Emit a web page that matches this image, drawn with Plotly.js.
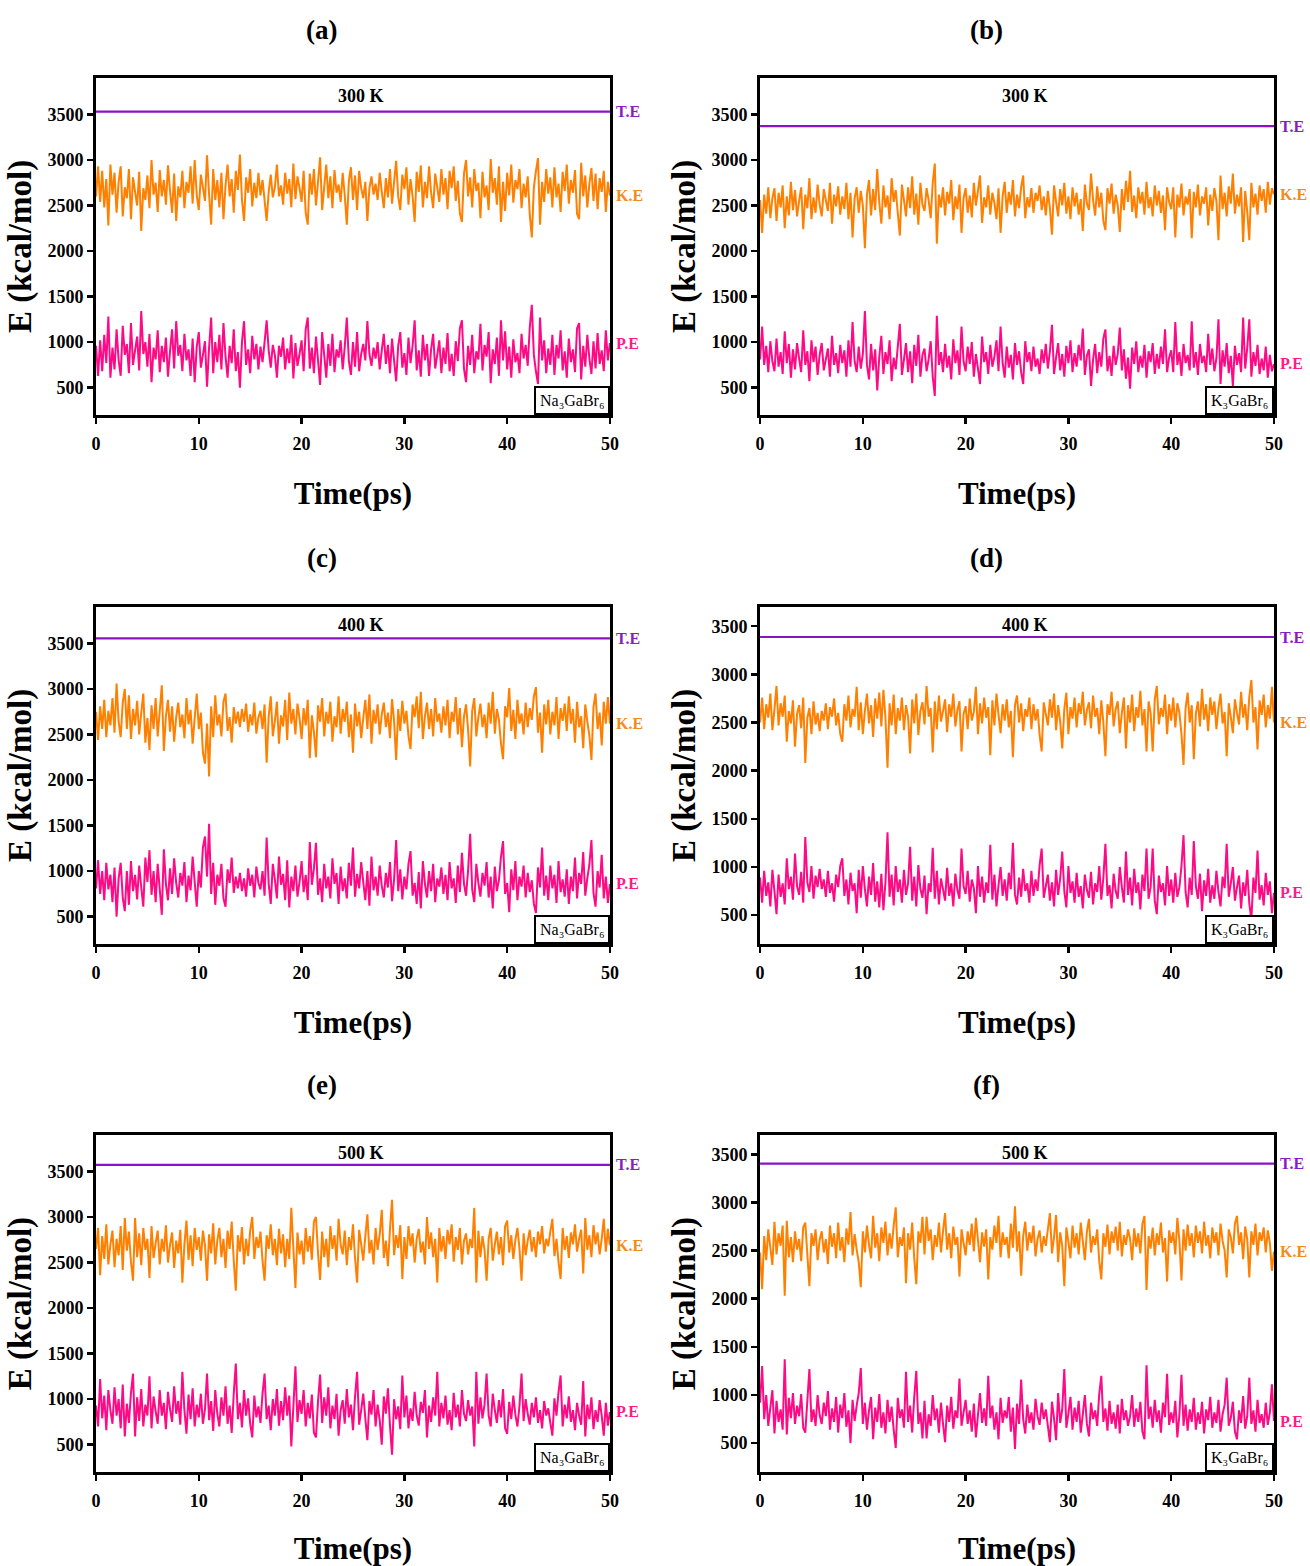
<!DOCTYPE html>
<html>
<head>
<meta charset="utf-8">
<script src="https://cdn.plot.ly/plotly-3.0.1.min.js"></script>
<style>
  html, body { margin: 0; padding: 0; background: #ffffff; }
  #chart { width: 1310px; height: 1566px; }
</style>
</head>
<body>
<div id="chart"></div>
<script>
// AIMD energy traces (kcal/mol) sampled every 0.2 ps over 50 ps
const timeStep = 0.2;

const panelLetters = ['(a)', '(b)', '(c)', '(d)', '(e)', '(f)'];
const temperatures = ['300 K', '300 K', '400 K', '400 K', '500 K', '500 K'];
const compounds = ['Na₃GaBr₆', 'K₃GaBr₆', 'Na₃GaBr₆', 'K₃GaBr₆', 'Na₃GaBr₆', 'K₃GaBr₆'];
const seriesNames = ['T.E', 'K.E', 'P.E'];

// total energy (flat line) per panel
const totalEnergy = [3530, 3372, 3555, 3388, 3573, 3403];

// (a) Na3GaBr6, 300 K
const keA = [
  2600, 2930, 2540, 2880, 2480, 2790, 2280, 2950, 2620, 2860,
  2420, 2760, 2930, 2380, 2700, 2580, 2900, 2350, 2810, 2650,
  2500, 2870, 2220, 2690, 2560, 2830, 2470, 3000, 2620, 2750,
  2430, 2890, 2600, 2780, 2510, 2940, 2660, 2420, 2850, 2330,
  2710, 2590, 2880, 2470, 2760, 2640, 2930, 2520, 3000, 2610,
  2450, 2840, 2700, 2550, 3050, 2620, 2290, 2900, 2560, 2780,
  2480, 2860, 2350, 2720, 2950, 2600, 2790, 2420, 2880, 2670,
  3060, 2560, 2330, 2810, 2640, 2900, 2490, 2750, 2580, 2860,
  2610, 2780, 2560, 2330, 2650, 2840, 2590, 2700, 2950, 2600,
  2720, 2510, 2860, 2630, 2790, 2480, 2960, 2570, 2820, 2690,
  2540, 2880, 2420, 2290, 2850, 2620, 2900, 2500, 2760, 3030,
  2450, 2700, 2950, 2580, 2820, 2470, 2890, 2640, 2730, 2540,
  2860, 2610, 2290, 2770, 2920, 2560, 2830, 2450, 2880, 2690,
  2580, 2760, 2330, 2690, 2820, 2620, 2740, 2560, 2860, 2650,
  2470, 2800, 2590, 2900, 2520, 2760, 2990, 2600, 2450, 2840,
  2680, 2920, 2510, 2790, 2600, 2320, 2870, 2650, 2940, 2480,
  2760, 2580, 2930, 2640, 2470, 2850, 2700, 2540, 2900, 2620,
  2800, 2460, 2880, 2690, 2930, 2550, 2770, 2410, 2320, 2850,
  3000, 2600, 2810, 2480, 2900, 2660, 2750, 2360, 2870, 2590,
  2720, 2450, 3010, 2640, 2800, 2510, 2930, 2320, 2760, 2440,
  2860, 2610, 2950, 2530, 2780, 2680, 2900, 2470, 2740, 2590,
  2820, 2400, 2150, 2700, 2880, 3020, 2290, 2760, 2540, 2900,
  2630, 2810, 2480, 2920, 2590, 2740, 2430, 2870, 2660, 2950,
  2520, 2780, 2640, 2890, 2410, 2350, 2970, 2600, 2830, 2480,
  2740, 2910, 2550, 2850, 2460, 2800, 2650, 2880, 2430, 2760,
  2610
];
const peA = [
  960, 630, 1020, 680, 1080, 770, 1280, 610, 940, 700,
  1140, 800, 630, 1180, 860, 980, 660, 1210, 750, 910,
  1060, 690, 1340, 870, 1000, 730, 1090, 560, 940, 810,
  1130, 670, 960, 780, 1050, 620, 900, 1140, 710, 1230,
  850, 970, 680, 1090, 800, 920, 630, 1040, 560, 950,
  1110, 720, 860, 1010, 510, 940, 1270, 660, 1000, 780,
  1080, 700, 1210, 840, 610, 960, 770, 1140, 680, 890,
  500, 1000, 1230, 750, 920, 660, 1070, 810, 980, 700,
  950, 780, 1000, 1240, 910, 720, 970, 860, 610, 960,
  840, 1050, 700, 930, 770, 1080, 600, 990, 740, 870,
  1020, 680, 1140, 1270, 710, 940, 660, 1060, 800, 530,
  1110, 860, 610, 980, 740, 1090, 670, 920, 830, 1020,
  700, 950, 1270, 790, 640, 1000, 730, 1110, 680, 870,
  980, 800, 1230, 870, 740, 940, 820, 1000, 700, 910,
  1090, 760, 970, 660, 1040, 800, 570, 960, 1110, 720,
  880, 640, 1050, 770, 960, 1240, 690, 910, 620, 1080,
  800, 980, 630, 920, 1090, 710, 860, 1020, 660, 940,
  760, 1100, 680, 870, 630, 1010, 790, 1150, 1240, 710,
  560, 960, 750, 1080, 660, 900, 810, 1200, 690, 970,
  840, 1110, 550, 920, 760, 1050, 630, 1240, 800, 1120,
  700, 950, 610, 1030, 780, 880, 660, 1090, 820, 970,
  740, 1160, 1410, 860, 680, 540, 1270, 800, 1020, 660,
  930, 750, 1080, 640, 970, 820, 1130, 690, 900, 610,
  1040, 780, 920, 670, 1150, 1210, 590, 960, 730, 1080,
  820, 650, 1010, 710, 1100, 760, 910, 680, 1130, 800,
  990
];

// (b) K3GaBr6, 300 K
const keB = [
  2560, 2200, 2620, 2410, 2700, 2360, 2580, 2690, 2330, 2640,
  2480, 2720, 2250, 2600, 2390, 2760, 2450, 2670, 2380, 2550,
  2700, 2240, 2620, 2470, 2800, 2350, 2590, 2420, 2730, 2510,
  2380, 2680, 2560, 2440, 2750, 2300, 2620, 2490, 2710, 2400,
  2600, 2460, 2750, 2350, 2640, 2150, 2580, 2700, 2420, 2660,
  2500, 2030, 2620, 2780, 2390, 2680, 2450, 2900, 2530, 2300,
  2720, 2480, 2610, 2350, 2800, 2540, 2670, 2420, 2170, 2730,
  2560, 2380, 2700, 2470, 2820, 2400, 2630, 2290, 2750, 2510,
  2440, 2690, 2560, 2360, 2750, 2960, 2080, 2620, 2480, 2700,
  2390, 2650, 2520, 2780, 2340, 2600, 2460, 2730, 2200, 2580,
  2690, 2420, 2610, 2370, 2750, 2500, 2660, 2830, 2310, 2590,
  2480, 2720, 2400, 2640, 2530, 2350, 2690, 2200, 2600, 2760,
  2420, 2650, 2510, 2780, 2380, 2620, 2470, 2700, 2830, 2360,
  2590, 2480, 2690, 2420, 2640, 2550, 2720, 2450, 2600, 2390,
  2660, 2470, 2180, 2720, 2540, 2380, 2680, 2500, 2750, 2410,
  2600, 2350, 2700, 2490, 2640, 2400, 2570, 2220, 2730, 2520,
  2450, 2850, 2560, 2390, 2710, 2480, 2640, 2330, 2230, 2690,
  2520, 2740, 2410, 2620, 2500, 2210, 2680, 2450, 2770, 2540,
  2880, 2430, 2610, 2360, 2700, 2520, 2650, 2400, 2760, 2470,
  2590, 2380, 2720, 2500, 2660, 2420, 2610, 2230, 2700, 2540,
  2460, 2700, 2150, 2620, 2480, 2740, 2390, 2600, 2510, 2680,
  2140, 2650, 2480, 2730, 2390, 2600, 2520, 2700, 2280, 2620,
  2440, 2690, 2550, 2120, 2830, 2460, 2640, 2380, 2710, 2520,
  2850, 2410, 2620, 2490, 2700, 2100, 2660, 2430, 2120, 2750,
  2480, 2630, 2400, 2720, 2550, 2680, 2420, 2760, 2510, 2690,
  2620
];
const peB = [
  810, 1170, 750, 960, 670, 1010, 790, 680, 1040, 730,
  890, 650, 1120, 770, 980, 610, 920, 700, 990, 820,
  670, 1130, 750, 900, 570, 1020, 780, 950, 640, 860,
  990, 690, 810, 930, 620, 1070, 750, 880, 660, 970,
  770, 910, 620, 1020, 730, 1220, 790, 670, 950, 710,
  870, 1340, 750, 590, 980, 690, 920, 470, 840, 1070,
  650, 890, 760, 1020, 570, 830, 700, 950, 1200, 640,
  810, 990, 670, 900, 550, 970, 740, 1080, 620, 860,
  930, 680, 810, 1010, 620, 410, 1290, 750, 890, 670,
  980, 720, 850, 590, 1030, 770, 910, 640, 1170, 790,
  680, 950, 760, 1000, 620, 870, 710, 540, 1060, 780,
  890, 650, 970, 730, 840, 1020, 680, 1170, 770, 610,
  950, 720, 860, 590, 990, 750, 900, 670, 540, 1010,
  780, 890, 680, 950, 730, 820, 650, 920, 770, 980,
  710, 900, 1190, 650, 830, 990, 690, 870, 620, 960,
  770, 1020, 670, 880, 730, 970, 800, 1150, 640, 850,
  920, 520, 810, 980, 660, 890, 730, 1040, 1140, 680,
  850, 630, 960, 750, 870, 1160, 690, 920, 600, 830,
  490, 940, 760, 1010, 670, 850, 720, 970, 610, 900,
  780, 990, 650, 870, 710, 950, 760, 1140, 670, 830,
  910, 670, 1220, 750, 890, 630, 980, 770, 860, 690,
  1230, 720, 890, 640, 980, 770, 850, 670, 1090, 750,
  930, 680, 820, 1250, 540, 910, 730, 990, 660, 850,
  520, 960, 750, 880, 670, 1270, 710, 940, 1250, 620,
  890, 740, 970, 650, 820, 690, 950, 610, 860, 680,
  760
];

// (c) Na3GaBr6, 400 K
const keC = [
  2750, 2440, 2810, 2560, 2880, 2470, 2760, 2600, 2900, 2520,
  3060, 2640, 2470, 2850, 3000, 2560, 2930, 2450, 2780, 2600,
  2870, 2500, 2740, 2950, 2410, 2680, 2330, 2820, 2560, 2900,
  2480, 2760, 3040, 2320, 2700, 2880, 2530, 2810, 2420, 2690,
  2850, 2580, 2720, 2460, 2900, 2610, 2770, 2400, 2680, 2950,
  2560, 2740, 2300, 2180, 2620, 2040, 2810, 2470, 2930, 2600,
  2720, 2480, 2860, 2950, 2540, 2690, 2410, 2800, 2620, 2750,
  2580, 2780, 2640, 2840, 2530, 2720, 2600, 2850, 2510, 2690,
  2760, 2560, 2830, 2190, 2700, 2920, 2480, 2650, 2860, 2400,
  2710, 2590, 2880, 2440, 2960, 2620, 2780, 2500, 2840, 2680,
  2450, 2790, 2600, 2880, 2240, 2710, 2530, 2250, 2820, 2640,
  2900, 2480, 2750, 2620, 2860, 2420, 2700, 2580, 2920, 2510,
  2780, 2640, 2860, 2470, 2720, 2300, 2840, 2590, 2750, 2460,
  2680, 2880, 2560, 2940, 2400, 2770, 2620, 2830, 2500, 2720,
  2850, 2580, 2740, 2460, 2890, 2650, 2220, 2780, 2540, 2870,
  2620, 2760, 2480, 2340, 2830, 2690, 2920, 2570, 2970, 2450,
  2700, 2850, 2560, 2780, 2480, 2900, 2640, 2730, 2520, 2810,
  2600, 2880, 2460, 2750, 2640, 2910, 2500, 2790, 2360, 2700,
  2830, 2550, 2150, 2760, 2900, 2480, 2690, 2840, 2580, 2720,
  2460, 2850, 2620, 2970, 2510, 2780, 2660, 2400, 2230, 2810,
  2690, 3010, 2540, 2770, 2450, 2880, 2620, 2730, 2500, 2850,
  2580, 2790, 2660, 2920, 3020, 2520, 2740, 2300, 2830, 2610,
  2880, 2500, 2750, 2600, 2910, 2450, 2790, 2650, 2840, 2540,
  2920, 2620, 2780, 2410, 2860, 2580, 2700, 2350, 2830, 2640,
  2490, 2220, 2800, 2950, 2560, 2740, 2380, 2860, 2620, 2910,
  2620
];
const peC = [
  810, 1120, 750, 1000, 680, 1090, 800, 960, 660, 1040,
  500, 920, 1090, 710, 560, 1000, 630, 1110, 780, 960,
  690, 1060, 820, 610, 1150, 880, 1230, 740, 1000, 660,
  1080, 800, 520, 1240, 860, 680, 1030, 750, 1140, 870,
  710, 980, 840, 1100, 660, 950, 790, 1160, 880, 610,
  1000, 820, 1260, 1380, 940, 1520, 750, 1090, 630, 960,
  840, 1080, 700, 610, 1020, 870, 1150, 760, 940, 810,
  980, 780, 920, 720, 1030, 840, 960, 710, 1050, 870,
  800, 1000, 730, 1370, 860, 640, 1080, 910, 700, 1160,
  850, 970, 680, 1120, 600, 940, 780, 1060, 720, 880,
  1110, 770, 960, 680, 1320, 850, 1030, 1310, 740, 920,
  660, 1080, 810, 940, 700, 1140, 860, 980, 640, 1050,
  780, 920, 700, 1090, 840, 1260, 720, 970, 810, 1100,
  880, 680, 1000, 620, 1160, 790, 940, 730, 1060, 840,
  710, 980, 820, 1100, 670, 910, 1340, 780, 1020, 690,
  940, 800, 1080, 1220, 730, 870, 640, 990, 590, 1110,
  860, 710, 1000, 780, 1080, 660, 920, 830, 1040, 750,
  960, 680, 1100, 810, 920, 650, 1060, 770, 1200, 860,
  730, 1010, 1410, 800, 660, 1080, 870, 720, 980, 840,
  1100, 710, 940, 590, 1050, 780, 900, 1160, 1330, 750,
  870, 550, 1020, 790, 1110, 680, 940, 830, 1060, 710,
  980, 770, 900, 640, 540, 1040, 820, 1260, 730, 950,
  680, 1060, 810, 960, 650, 1110, 770, 910, 720, 1020,
  640, 940, 780, 1150, 700, 980, 860, 1210, 730, 920,
  1070, 1340, 760, 610, 1000, 820, 1180, 700, 940, 650,
  860
];

// (d) K3GaBr6, 400 K
const keD = [
  2500, 2760, 2430, 2690, 2550, 2800, 2420, 2640, 2880, 2470,
  2700, 2560, 2780, 2300, 2620, 2490, 2730, 2250, 2590, 2680,
  2440, 2760, 2080, 2550, 2650, 2380, 2720, 2480, 2600, 2410,
  2620, 2520, 2700, 2430, 2660, 2560, 2750, 2470, 2600, 2380,
  2300, 2690, 2520, 2780, 2450, 2640, 2560, 2870, 2420, 2710,
  2380, 2620, 2800, 2490, 2680, 2350, 2750, 2540, 2810, 2460,
  2840, 2550, 2030, 2700, 2470, 2790, 2380, 2650, 2520, 2760,
  2420, 2680, 2560, 2180, 2740, 2490, 2800, 2370, 2620, 2710,
  2480, 2880, 2560, 2650, 2190, 2720, 2430, 2780, 2510, 2620,
  2740, 2400, 2690, 2560, 2800, 2460, 2630, 2720, 2200, 2590,
  2670, 2430, 2750, 2520, 2610, 2870, 2380, 2700, 2490, 2760,
  2550, 2660, 2160, 2730, 2470, 2800, 2580, 2390, 2690, 2520,
  2740, 2450, 2620, 2140, 2680, 2780, 2500, 2700, 2410, 2640,
  2560, 2760, 2430, 2690, 2520, 2640, 2370, 2200, 2710, 2590,
  2470, 2740, 2550, 2800, 2420, 2680, 2510, 2230, 2640, 2810,
  2380, 2660, 2540, 2760, 2450, 2700, 2590, 2820, 2470, 2630,
  2710, 2440, 2780, 2560, 2650, 2380, 2730, 2500, 2150, 2690,
  2580, 2820, 2460, 2640, 2720, 2390, 2600, 2760, 2230, 2680,
  2500, 2790, 2410, 2660, 2550, 2830, 2470, 2640, 2200, 2720,
  2600, 2200, 2740, 2880, 2480, 2650, 2560, 2790, 2380, 2690,
  2520, 2760, 2450, 2700, 2600, 2380, 2060, 2650, 2810, 2500,
  2680, 2120, 2590, 2720, 2460, 2850, 2530, 2690, 2410, 2760,
  2580, 2720, 2430, 2650, 2800, 2490, 2610, 2150, 2700, 2560,
  2390, 2740, 2600, 2480, 2820, 2550, 2690, 2420, 2770, 2940,
  2500, 2660, 2220, 2730, 2580, 2790, 2450, 2680, 2540, 2870,
  2500
];
const peD = [
  890, 630, 960, 700, 840, 590, 970, 750, 510, 920,
  690, 830, 610, 1090, 770, 900, 660, 1140, 800, 710,
  950, 630, 1310, 840, 740, 1010, 670, 910, 790, 980,
  770, 870, 690, 960, 730, 830, 640, 920, 790, 1010,
  1090, 700, 870, 610, 940, 750, 830, 520, 970, 680,
  1010, 770, 590, 900, 710, 1040, 640, 850, 580, 930,
  550, 840, 1360, 690, 920, 600, 1010, 740, 870, 630,
  970, 710, 830, 1210, 650, 900, 590, 1020, 770, 680,
  910, 510, 830, 740, 1200, 670, 960, 610, 880, 770,
  650, 990, 700, 830, 590, 930, 760, 670, 1190, 800,
  720, 960, 640, 870, 780, 520, 1010, 690, 900, 630,
  840, 730, 1230, 660, 920, 590, 810, 1000, 700, 870,
  650, 940, 770, 1250, 710, 610, 890, 690, 980, 750,
  830, 630, 960, 700, 870, 750, 1020, 1190, 680, 800,
  920, 650, 840, 590, 970, 710, 880, 1160, 750, 580,
  1010, 730, 850, 630, 940, 690, 800, 570, 920, 760,
  680, 950, 610, 830, 740, 1010, 660, 890, 1240, 700,
  810, 570, 930, 750, 670, 1000, 790, 630, 1160, 710,
  890, 600, 980, 730, 840, 560, 920, 750, 1190, 670,
  790, 1190, 650, 510, 910, 740, 830, 600, 1010, 700,
  870, 630, 940, 690, 790, 1010, 1330, 740, 580, 890,
  710, 1270, 800, 670, 930, 540, 860, 700, 980, 630,
  810, 670, 960, 740, 590, 900, 780, 1240, 690, 830,
  1000, 650, 790, 910, 570, 840, 700, 970, 620, 450,
  890, 730, 1170, 660, 810, 600, 940, 710, 850, 520,
  730
];

// (e) Na3GaBr6, 500 K
const keE = [
  2650, 2880, 2360, 2790, 2540, 2920, 2480, 2700, 2850, 2450,
  2760, 2580, 2900, 2420, 2990, 2630, 2840, 2510, 2300, 2990,
  2560, 2820, 2470, 2880, 2640, 2760, 2330, 2900, 2550, 2710,
  2850, 2480, 2760, 2620, 2910, 2500, 2690, 2830, 2440, 2740,
  2600, 2860, 2280, 2700, 2960, 2530, 2800, 2460, 2880, 2640,
  2780, 2520, 2850, 2690, 2300, 2810, 2600, 2930, 2480, 2740,
  2880, 2560, 2760, 2440, 2850, 2650, 2950, 2520, 2190, 2800,
  2620, 2890, 2480, 2760, 2570, 2850, 3000, 2540, 2780, 2660,
  2840, 2520, 2300, 2800, 2650, 2920, 2580, 2760, 2470, 2870,
  2600, 2810, 2450, 2760, 2540, 3100, 2660, 2220, 2830, 2590,
  2740, 2480, 2880, 2620, 2790, 2530, 2950, 3000, 2600, 2310,
  2840, 2560, 2760, 2450, 2900, 2650, 2800, 2520, 2980, 2700,
  2590, 2850, 2470, 2780, 2640, 2920, 2550, 2280, 2860, 2700,
  2520, 2790, 3030, 2600, 2750, 2480, 2880, 2640, 2810, 3080,
  2550, 2740, 2460, 2870, 3190, 2580, 2800, 2660, 2910, 2320,
  2780, 2540, 2900, 2680, 2820, 2500, 2760, 2870, 2610, 2730,
  2480, 3000, 2650, 2830, 2560, 2760, 2280, 2880, 2620, 2790,
  2540, 2860, 2700, 2920, 2510, 2780, 2640, 2880, 2480, 2740,
  2820, 2590, 2760, 2660, 3100, 2280, 2850, 2560, 2790, 2640,
  2300, 2760, 2880, 2520, 2700, 2840, 2590, 2780, 2470, 2900,
  2960, 2610, 2800, 2540, 2750, 2880, 2650, 2300, 2820, 2580,
  2740, 2860, 2620, 2780, 2560, 2840, 2700, 2900, 2600, 2760,
  2680, 2840, 2980, 2570, 2760, 2500, 2320, 2880, 2640, 2790,
  2550, 2830, 2700, 2920, 2620, 2760, 2860, 2380, 2990, 2640,
  2800, 2560, 2910, 2700, 2830, 2590, 2760, 2980, 2620, 2870,
  2690
];
const peE = [
  930, 700, 1220, 790, 1040, 660, 1100, 880, 730, 1130,
  820, 1000, 680, 1160, 590, 950, 740, 1070, 1280, 590,
  1020, 760, 1110, 700, 940, 820, 1250, 680, 1030, 870,
  730, 1100, 820, 960, 670, 1080, 890, 750, 1140, 840,
  980, 720, 1300, 880, 620, 1050, 780, 1120, 700, 940,
  800, 1060, 730, 890, 1280, 770, 980, 650, 1100, 840,
  700, 1020, 820, 1140, 730, 930, 630, 1060, 1390, 780,
  960, 690, 1100, 820, 1010, 730, 580, 1040, 800, 920,
  740, 1060, 1280, 780, 930, 660, 1000, 820, 1110, 710,
  980, 770, 1130, 820, 1040, 480, 920, 1360, 750, 990,
  840, 1100, 700, 960, 790, 1050, 630, 580, 980, 1270,
  740, 1020, 820, 1130, 680, 930, 780, 1060, 600, 880,
  990, 730, 1110, 800, 940, 660, 1030, 1300, 720, 880,
  1060, 790, 550, 980, 830, 1100, 700, 940, 770, 500,
  1030, 840, 1120, 710, 390, 1000, 780, 920, 670, 1260,
  800, 1040, 680, 900, 760, 1080, 820, 710, 970, 850,
  1100, 580, 930, 750, 1020, 820, 1300, 700, 960, 790,
  1040, 720, 880, 660, 1070, 800, 940, 700, 1100, 840,
  760, 990, 820, 920, 480, 1300, 730, 1020, 790, 940,
  1280, 820, 700, 1060, 880, 740, 990, 800, 1110, 680,
  620, 970, 780, 1040, 830, 700, 930, 1280, 760, 1000,
  840, 720, 960, 800, 1020, 740, 880, 680, 980, 820,
  900, 740, 600, 1010, 820, 1080, 1260, 700, 940, 790,
  1030, 750, 880, 660, 960, 820, 720, 1200, 590, 940,
  780, 1020, 670, 880, 750, 990, 820, 600, 960, 710,
  860
];

// (f) K3GaBr6, 500 K
const keF = [
  2480, 2100, 2650, 2400, 2720, 2530, 2350, 2800, 2460, 2680,
  2550, 2760, 2030, 2810, 2430, 2640, 2380, 2700, 2510, 2620,
  2390, 2740, 2790, 2460, 2130, 2680, 2550, 2720, 2400, 2610,
  2700, 2480, 2620, 2360, 2760, 2540, 2680, 2420, 2790, 2500,
  2640, 2380, 2730, 2560, 2900, 2450, 2670, 2510, 2380, 2120,
  2700, 2480, 2760, 2560, 2420, 2860, 2530, 2680, 2390, 2740,
  2580, 2800, 2450, 2680, 2520, 2760, 2950, 2430, 2640, 2550,
  2740, 2160, 2680, 2510, 2790, 2420, 2150, 2700, 2580, 2850,
  2460, 2850, 2600, 2720, 2400, 2660, 2540, 2790, 2480, 2700,
  2890, 2510, 2680, 2420, 2750, 2560, 2640, 2230, 2720, 2580,
  2450, 2700, 2560, 2780, 2490, 2840, 2610, 2380, 2690, 2540,
  2720, 2200, 2640, 2510, 2760, 2580, 2860, 2430, 2690, 2560,
  2640, 2420, 2780, 2530, 2960, 2490, 2700, 2240, 2650, 2800,
  2500, 2690, 2580, 2760, 2440, 2620, 2710, 2480, 2650, 2550,
  2720, 2890, 2470, 2640, 2870, 2380, 2690, 2550, 2130, 2740,
  2590, 2420, 2760, 2530, 2680, 2460, 2790, 2600, 2400, 2700,
  2830, 2480, 2650, 2560, 2720, 2390, 2200, 2680, 2540, 2770,
  2460, 2700, 2580, 2750, 2500, 2800, 2440, 2660, 2560, 2720,
  2620, 2400, 2730, 2540, 2680, 2470, 2780, 2860, 2090, 2650,
  2520, 2740, 2450, 2680, 2560, 2790, 2480, 2630, 2180, 2710,
  2580, 2690, 2460, 2840, 2600, 2190, 2720, 2500, 2770, 2550,
  2680, 2430, 2760, 2580, 2700, 2470, 2800, 2550, 2660, 2420,
  2740, 2580, 2690, 2450, 2780, 2600, 2500, 2220, 2720, 2640,
  2470, 2780, 2860, 2560, 2690, 2410, 2750, 2620, 2220, 2700,
  2560, 2780, 2450, 2690, 2600, 2740, 2480, 2710, 2580, 2290,
  2490
];
const peF = [
  920, 1300, 750, 1000, 680, 870, 1050, 600, 940, 720,
  850, 640, 1370, 590, 970, 760, 1020, 700, 890, 780,
  1010, 660, 610, 940, 1270, 720, 850, 680, 1000, 790,
  700, 920, 780, 1040, 640, 860, 720, 980, 610, 900,
  760, 1020, 670, 840, 500, 950, 730, 890, 1020, 1280,
  700, 920, 640, 840, 980, 540, 870, 720, 1010, 660,
  820, 600, 950, 720, 880, 640, 450, 970, 760, 850,
  660, 1240, 720, 890, 610, 980, 1250, 700, 820, 550,
  940, 550, 800, 680, 1000, 740, 860, 610, 920, 700,
  510, 890, 720, 980, 650, 840, 760, 1170, 680, 820,
  950, 700, 840, 620, 910, 560, 790, 1020, 710, 860,
  680, 1200, 760, 890, 640, 820, 540, 970, 710, 840,
  760, 980, 620, 870, 440, 910, 700, 1160, 750, 600,
  900, 710, 820, 640, 960, 780, 690, 920, 750, 850,
  680, 510, 930, 760, 530, 1020, 710, 850, 1270, 660,
  810, 980, 640, 870, 720, 940, 610, 800, 1000, 700,
  570, 920, 750, 840, 680, 1010, 1200, 720, 860, 630,
  940, 700, 820, 650, 900, 600, 960, 740, 840, 680,
  780, 1000, 670, 860, 720, 930, 620, 540, 1310, 750,
  880, 660, 950, 720, 840, 610, 920, 770, 1220, 690,
  820, 710, 940, 560, 800, 1210, 680, 900, 630, 850,
  720, 970, 640, 820, 700, 930, 600, 850, 740, 980,
  660, 820, 710, 950, 620, 800, 900, 1180, 680, 760,
  930, 620, 540, 840, 710, 990, 650, 780, 1180, 700,
  840, 620, 950, 710, 800, 660, 920, 690, 820, 1110,
  730
];

const kinetic = [keA, keB, keC, keD, keE, keF];
const potential = [peA, peB, peC, peD, peE, peF];

// ---- styling ----
const serif = 'Liberation Serif, Times New Roman, serif';
const colTE = '#8a12c6';
const colKE = '#ff8000';
const colPE = '#ff0a85';
const labelColors = ['#8a1cc0', '#f28a1e', '#ff1a8c'];

const colDomains = [[0.0733, 0.4656], [0.5802, 0.9725]];
const rowDomains = [[0.7350, 0.9502], [0.3972, 0.6124], [0.0600, 0.2752]];
const yTop = [3900, 3900, 3900, 3700, 3900, 3700];
const letterX = [0.2458, 0.7527];
const letterY = [0.9808, 0.6437, 0.3072];

const time = keA.map((_, i) => +(i * timeStep).toFixed(2));

const traces = [];
const layout = {
  width: 1310, height: 1566,
  margin: {l: 0, r: 0, t: 0, b: 0},
  paper_bgcolor: '#ffffff', plot_bgcolor: '#ffffff',
  showlegend: false,
  font: {family: serif, color: '#000000'},
  annotations: []
};

for (let p = 0; p < 6; p++) {
  const col = p % 2, row = Math.floor(p / 2);
  const s = p === 0 ? '' : String(p + 1);
  const xa = 'x' + s, ya = 'y' + s;
  const ke = kinetic[p], pe = potential[p];
  const tEnd = time[time.length - 1];

  traces.push({x: [time[0], tEnd], y: [totalEnergy[p], totalEnergy[p]], xaxis: xa, yaxis: ya,
               type: 'scatter', mode: 'lines', name: seriesNames[0],
               line: {color: colTE, width: 2.2}, hoverinfo: 'skip'});
  traces.push({x: time, y: ke, xaxis: xa, yaxis: ya, type: 'scatter', mode: 'lines',
               name: seriesNames[1], line: {color: colKE, width: 2, simplify: false}});
  traces.push({x: time, y: pe, xaxis: xa, yaxis: ya, type: 'scatter', mode: 'lines',
               name: seriesNames[2], line: {color: colPE, width: 2, simplify: false}});

  const axisCommon = {
    showline: true, mirror: true, linecolor: '#000000', linewidth: 3,
    ticks: 'outside', ticklen: 6, tickwidth: 2.5, tickcolor: '#000000',
    showgrid: false, zeroline: false, fixedrange: true,
    tickfont: {family: serif, size: 18, weight: 'bold', color: '#000000'}
  };
  layout['xaxis' + s] = Object.assign({}, axisCommon, {
    domain: colDomains[col], anchor: ya, range: [0, 50], tick0: 0, dtick: 10,
    ticklabelstandoff: 4,
    title: {text: 'Time(ps)', standoff: 30,
            font: {family: serif, size: 31, weight: 'bold', color: '#000000'}}
  });
  layout['yaxis' + s] = Object.assign({}, axisCommon, {
    domain: rowDomains[row], anchor: xa, range: [200, yTop[p]], tick0: 500, dtick: 500,
    title: {text: 'E (kcal/mol)', standoff: 6,
            font: {family: serif, size: 33, weight: 'bold', color: '#000000'}}
  });

  const ann = layout.annotations;
  ann.push({text: panelLetters[p], xref: 'paper', yref: 'paper', x: letterX[col], y: letterY[row],
            xanchor: 'center', yanchor: 'middle', showarrow: false,
            font: {family: serif, size: 27, weight: 'bold', color: '#000000'}});
  ann.push({text: temperatures[p], xref: xa + ' domain', yref: ya + ' domain', x: 0.515, y: 0.947,
            xanchor: 'center', yanchor: 'middle', showarrow: false,
            font: {family: serif, size: 18, weight: 'bold', color: '#000000'}});
  ann.push({text: compounds[p], xref: xa + ' domain', yref: ya + ' domain', x: 1, y: 0,
            xanchor: 'right', yanchor: 'bottom', showarrow: false,
            bordercolor: '#000000', borderwidth: 2, borderpad: 4, bgcolor: '#ffffff',
            font: {family: serif, size: 16, color: '#000000'}});
  const endValues = [totalEnergy[p], ke[ke.length - 1], pe[pe.length - 1]];
  for (let k = 0; k < 3; k++) {
    ann.push({text: seriesNames[k], xref: xa + ' domain', yref: ya, x: 1, y: endValues[k],
              xanchor: 'left', yanchor: 'middle', xshift: 4, showarrow: false,
              font: {family: serif, size: 16, weight: 'bold', color: labelColors[k]}});
  }
}

Plotly.newPlot('chart', traces, layout, {staticPlot: true, displayModeBar: false});
</script>
</body>
</html>
